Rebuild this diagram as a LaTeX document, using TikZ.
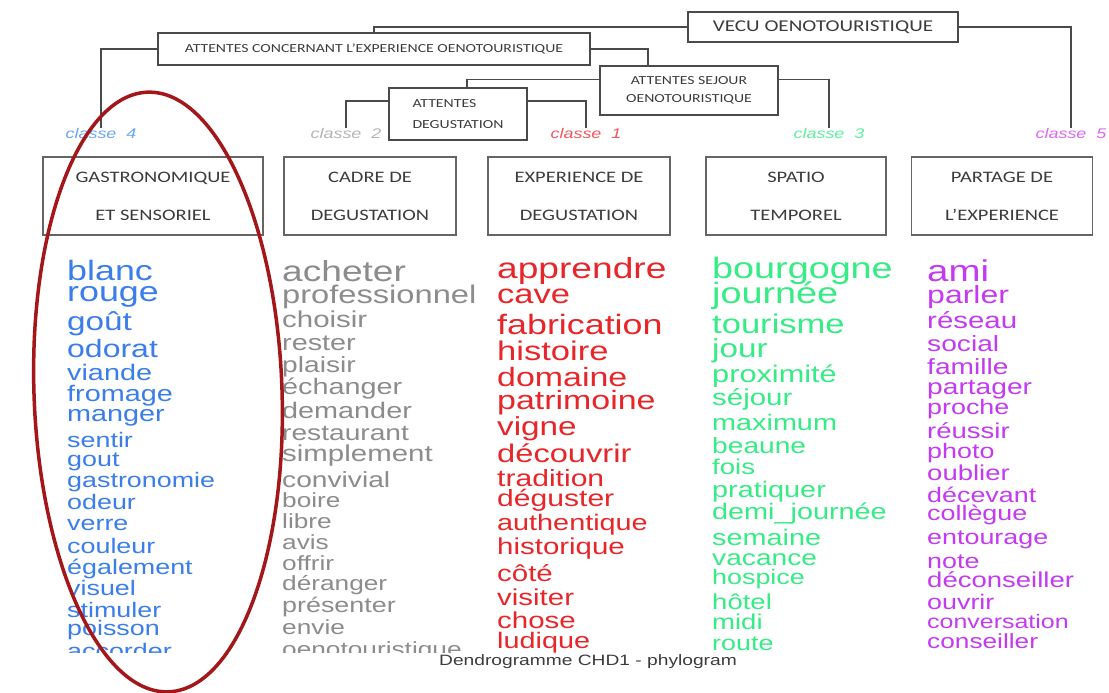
\documentclass[tikz,border=0pt]{standalone}
\usepackage{fontspec}
\setmainfont{Liberation Sans}
\newfontfamily\cloudfont[FakeStretch=1.28]{Liberation Sans}
\newfontfamily\boxfont[FakeStretch=1.28]{Carlito}
\usetikzlibrary{positioning, calc}
\definecolor{linegray}{HTML}{4A4A4A}
\definecolor{textgray}{HTML}{3C3C3C}
\definecolor{cblue}{HTML}{3B7EEA}
\definecolor{cgray}{HTML}{8C8C8C}
\definecolor{cred}{HTML}{E8262A}
\definecolor{cgreen}{HTML}{35EC85}
\definecolor{cpink}{HTML}{C43AF0}
\definecolor{lblue}{HTML}{6AA6F3}
\definecolor{lgray}{HTML}{B5B5B5}
\definecolor{lred}{HTML}{F0585C}
\definecolor{lgreen}{HTML}{5EF0A0}
\definecolor{lpink}{HTML}{E066F5}
\definecolor{circlered}{HTML}{A3161A}
\tikzset{
	treebox/.style={rectangle, draw=linegray, line width=1.2pt, inner sep=0pt, text=textgray},
	catbox/.style={rectangle, draw=linegray!85, line width=1.2pt, minimum height=78, inner sep=0pt, align=center, text=textgray, font=\boxfont\fontsize{16}{38}\selectfont},
	link/.style={draw=linegray, line width=1.2pt},
	classlbl/.style={inner sep=0pt, font=\cloudfont\itshape\fontsize{14}{14}\selectfont},
	word/.style={anchor=mid west, inner sep=0pt, font={\cloudfont\fontsize{#1}{#1}\selectfont}}
}

\begin{document}
\begin{tikzpicture}[
		x=1pt, y=-1pt,
		% tree labels are set in a smaller size
		small/.style={font=\boxfont\fontsize{12.3}{#1}\selectfont}
		]
		\fill[white] (0,0) rectangle (1109,693);
		\useasboundingbox (0,0) rectangle (1109,693);
		
		% --- Dendrogram boxes ---
		\node[treebox, minimum width=270, minimum height=30, font=\boxfont\fontsize{16.5}{16.5}\selectfont] (vecu) at (823,27) {VECU OENOTOURISTIQUE};
		\node[treebox, small=12.3, minimum width=432, minimum height=32] (attexp) at (374,49) {ATTENTES CONCERNANT L’EXPERIENCE OENOTOURISTIQUE};
		\node[treebox, small=18, minimum width=178, minimum height=49, align=center] (sejour) at (689,90.5) {ATTENTES SEJOUR\\OENOTOURISTIQUE};
		\node[treebox, small=21, minimum width=138, minimum height=52, align=left] (degust) at (458,114) {ATTENTES\\DEGUSTATION};
		
		% --- Class labels ---
		\node[classlbl, text=lblue] (cl4) at (101,133) {classe\ \ 4};
		\node[classlbl, text=lgray] (cl2) at (346,133) {classe\ \ 2};
		\node[classlbl, text=lred] (cl1) at (586,133) {classe\ \ 1};
		\node[classlbl, text=lgreen] (cl3) at (829,133) {classe\ \ 3};
		\node[classlbl, text=lpink] (cl5) at (1071,133) {classe\ \ 5};
		
		% --- Tree links ---
		\draw[link] (vecu.west) -| (attexp.north);
		\draw[link] (vecu.east) -| (cl5.north);
		\draw[link] (attexp.west) -| (cl4.north);
		\draw[link] (attexp.east) -| ($(sejour.north)+(-41,0)$);
		\draw[link] ($(sejour.west)+(0,-11)$) -| ($(degust.north)+(9,0)$);
		\draw[link] ($(sejour.east)+(0,-11)$) -| (cl3.north);
		\draw[link] ($(degust.west)+(0,-13)$) -| (cl2.north);
		\draw[link] ($(degust.east)+(0,-13)$) -| (cl1.north);
		
		% --- Class boxes ---
		\node[catbox, minimum width=220] (cat4) at (153,196) {GASTRONOMIQUE\\ET SENSORIEL};
		\node[catbox, minimum width=172] (cat2) at (370,196) {CADRE DE\\DEGUSTATION};
		\node[catbox, minimum width=182] (cat1) at (579,196) {EXPERIENCE DE\\DEGUSTATION};
		\node[catbox, minimum width=180] (cat3) at (796,196) {SPATIO\\TEMPOREL};
		\node[catbox, minimum width=181] (cat5) at (1002,196) {PARTAGE DE\\L’EXPERIENCE};
		
		% --- Word lists (cut at the bottom of the window) ---
		\begin{scope}
			\clip (0,240) rectangle (1109,652);
			\foreach [count=\i] \txt/\sz/\yy in {blanc/28/278, rouge/28/299, goût/26/328, odorat/25/355, viande/22.5/378, fromage/22.5/399, manger/22.5/419, sentir/21/445, gout/21/464, gastronomie/21/485, odeur/21/507, verre/21/528, couleur/21/551, également/21/572, visuel/21/593, stimuler/21/615, poisson/21/633, accorder/21/656}
				\node[word=\sz, text=cblue] (gast-\i) at (67,\yy) {\txt};
			\foreach [count=\i] \txt/\sz/\yy in {acheter/29/279, professionnel/25.5/301, choisir/23/325, rester/22.5/348, plaisir/22/370, échanger/22.5/392, demander/22.5/416, restaurant/22/438, simplement/23/459, convivial/22/485, boire/20.5/505, libre/20.5/526, avis/20.5/547, offrir/20.5/568, déranger/20.5/588, présenter/21/610, envie/20.5/632, oenotouristique/20.5/654}
				\node[word=\sz, text=cgray] (cadre-\i) at (282,\yy) {\txt};
			\foreach [count=\i] \txt/\sz/\yy in {apprendre/29/276, cave/27/301, fabrication/28/332, histoire/27/358, domaine/26.5/384, patrimoine/26.5/407, vigne/26/433, découvrir/25.5/460, tradition/23.5/484, déguster/23.5/504, authentique/22.5/528, historique/23/552, côté/23/579, visiter/23/603, chose/23/626, ludique/22.5/646}
				\node[word=\sz, text=cred] (exper-\i) at (497,\yy) {\txt};
			\foreach [count=\i] \txt/\sz/\yy in {bourgogne/29.5/276, journée/29.5/301, tourisme/27/331, jour/26/355, proximité/24/380, séjour/23/403, maximum/22.5/428, beaune/22/451, fois/21.5/472, pratiquer/22.5/495, demi\_journée/22.5/517, semaine/22.5/543, vacance/22/563, hospice/21/582, hôtel/21.5/607, midi/21.5/627, route/21/648}
				\node[word=\sz, text=cgreen] (spatio-\i) at (712,\yy) {\txt};
			\foreach [count=\i] \txt/\sz/\yy in {ami/30/279, parler/25/301, réseau/23/326, social/22/349, famille/22/372, partager/22/392, proche/21/412, réussir/21.5/436, photo/21/456, oublier/21.5/478, décevant/21/500, collègue/21/518, entourage/21/542, note/21/566, déconseiller/21.5/585, ouvrir/21/607, conversation/19.5/626, conseiller/20.5/646}
				\node[word=\sz, text=cpink] (partage-\i) at (927,\yy) {\txt};
		\end{scope}
		
		% --- Caption ---
		\node[font=\cloudfont\fontsize{15}{15}\selectfont, text=textgray, inner sep=0pt] (caption) at (588,662) {Dendrogramme CHD1 - phylogram};
		
		% --- Hand drawn ring round class 4 ---
		\draw[circlered, line width=3.5pt, rotate around={2:(158,392)}] (158,392) ellipse [x radius=124, y radius=300];
		
	\end{tikzpicture}
\end{document}
